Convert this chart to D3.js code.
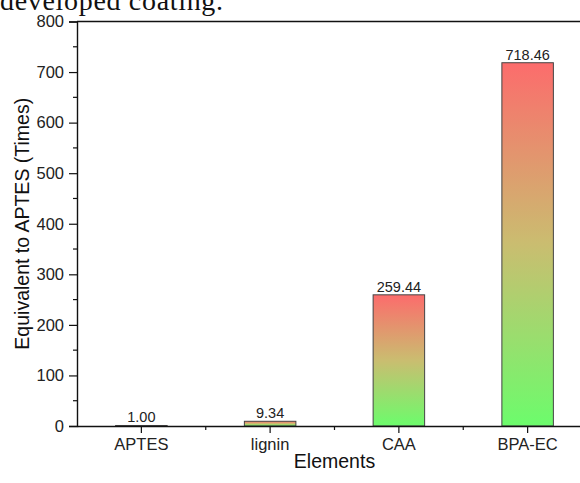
<!DOCTYPE html>
<html>
<head>
<meta charset="utf-8">
<script src="https://cdn.jsdelivr.net/npm/d3@7"></script>
<style>
  html, body { margin: 0; padding: 0; background: #fff; overflow: hidden; }
  svg { display: block; font-family: 'Liberation Sans', Arial, sans-serif; }
</style>
</head>
<body>
<div id="chart"></div>
<script>
// data
var categories = ['APTES', 'lignin', 'CAA', 'BPA-EC']
var values = [1.00, 9.34, 259.44, 718.46]
var valueLabels = ['1.00', '9.34', '259.44', '718.46']
var yTicks = [0, 100, 200, 300, 400, 500, 600, 700, 800]

var W = 580, H = 483
// plot edges (right edge runs past the window, as in the reference)
var pLeft = 77, pRight = 592, pTop = 21.5, pBottom = 426

var svg = d3.select('#chart').append('svg')
  .attr('width', W)
  .attr('height', H)

// bar gradient (red top -> green bottom), one per bar
var defs = svg.append('defs')
var grad = defs.append('linearGradient')
  .attr('id', 'g-bar')
  .attr('x1', 0).attr('y1', 0).attr('x2', 0).attr('y2', 1)
grad.append('stop').attr('offset', '0%').attr('stop-color', '#fc6c6c')
grad.append('stop').attr('offset', '50%').attr('stop-color', '#cabd70')
grad.append('stop').attr('offset', '100%').attr('stop-color', '#6cfc6c')

// caption fragment from the page above the figure
svg.append('text')
  .attr('x', 0)
  .attr('y', 10)
  .attr('font-family', "'Liberation Serif', 'DejaVu Serif', serif")
  .attr('font-size', 28)
  .attr('fill', '#111')
  .attr('textLength', 223)
  .text('developed coating.')

var x = d3.scaleBand()
  .domain(categories)
  .range([pLeft, pRight])
  .paddingInner(0.6)
  .paddingOuter(0.3)

var y = d3.scaleLinear()
  .domain([0, 800])
  .range([pBottom, pTop])

// frame top line
svg.append('line')
  .attr('x1', pLeft).attr('x2', pRight)
  .attr('y1', pTop).attr('y2', pTop)
  .attr('stroke', '#111').attr('stroke-width', 1.4)

// bars
svg.append('g')
  .selectAll('rect')
  .data(values)
  .enter()
  .append('rect')
  .attr('x', (d, i) => x(categories[i]))
  .attr('y', d => y(d))
  .attr('width', x.bandwidth())
  .attr('height', d => pBottom - y(d))
  .attr('fill', 'url(#g-bar)')
  .attr('stroke', '#444')
  .attr('stroke-width', 1)

// value labels
svg.append('g')
  .selectAll('text')
  .data(values)
  .enter()
  .append('text')
  .attr('x', (d, i) => x(categories[i]) + x.bandwidth() / 2)
  .attr('y', d => y(d) - 3)
  .attr('text-anchor', 'middle')
  .attr('font-size', 14.5)
  .attr('fill', '#222')
  .text((d, i) => valueLabels[i])

// y axis
var yAxis = svg.append('g')
  .attr('transform', 'translate(' + pLeft + ',0)')
  .call(d3.axisLeft(y).tickValues(yTicks).tickSize(8).tickPadding(5).tickFormat(d3.format('d')))
yAxis.select('.domain').attr('stroke', '#111').attr('stroke-width', 1.4)
yAxis.selectAll('.tick line').attr('stroke', '#111').attr('stroke-width', 1.2)
yAxis.selectAll('.tick text')
  .attr('font-size', 16.5)
  .attr('fill', '#222')
  .attr('font-family', "'Liberation Sans', Arial, sans-serif")

// y minor ticks
svg.append('g')
  .selectAll('line')
  .data(yTicks.slice(0, -1).map(d => d + 50))
  .enter()
  .append('line')
  .attr('x1', pLeft - 4).attr('x2', pLeft)
  .attr('y1', d => y(d)).attr('y2', d => y(d))
  .attr('stroke', '#111').attr('stroke-width', 1.2)

// x axis
var xAxis = svg.append('g')
  .attr('transform', 'translate(0,' + pBottom + ')')
  .call(d3.axisBottom(x).tickSize(7).tickPadding(5).tickSizeOuter(0))
xAxis.select('.domain').attr('stroke', '#111').attr('stroke-width', 1.4)
xAxis.selectAll('.tick line').attr('stroke', '#111').attr('stroke-width', 1.2)
xAxis.selectAll('.tick text')
  .attr('font-size', 16.5)
  .attr('fill', '#222')
  .attr('font-family', "'Liberation Sans', Arial, sans-serif")

// x minor ticks at band boundaries
svg.append('g')
  .selectAll('line')
  .data(categories.slice(1))
  .enter()
  .append('line')
  .attr('x1', d => x(d) - x.step() * x.paddingInner() / 2)
  .attr('x2', d => x(d) - x.step() * x.paddingInner() / 2)
  .attr('y1', pBottom).attr('y2', pBottom + 4)
  .attr('stroke', '#111').attr('stroke-width', 1.2)

// axis titles
svg.append('text')
  .attr('x', (pLeft + pRight) / 2)
  .attr('y', 468)
  .attr('text-anchor', 'middle')
  .attr('font-size', 19.5)
  .attr('fill', '#111')
  .text('Elements')

svg.append('text')
  .attr('transform', 'translate(29,' + (pTop + pBottom) / 2 + ') rotate(-90)')
  .attr('text-anchor', 'middle')
  .attr('font-size', 19.5)
  .attr('fill', '#111')
  .text('Equivalent to APTES (Times)')
</script>
</body>
</html>
